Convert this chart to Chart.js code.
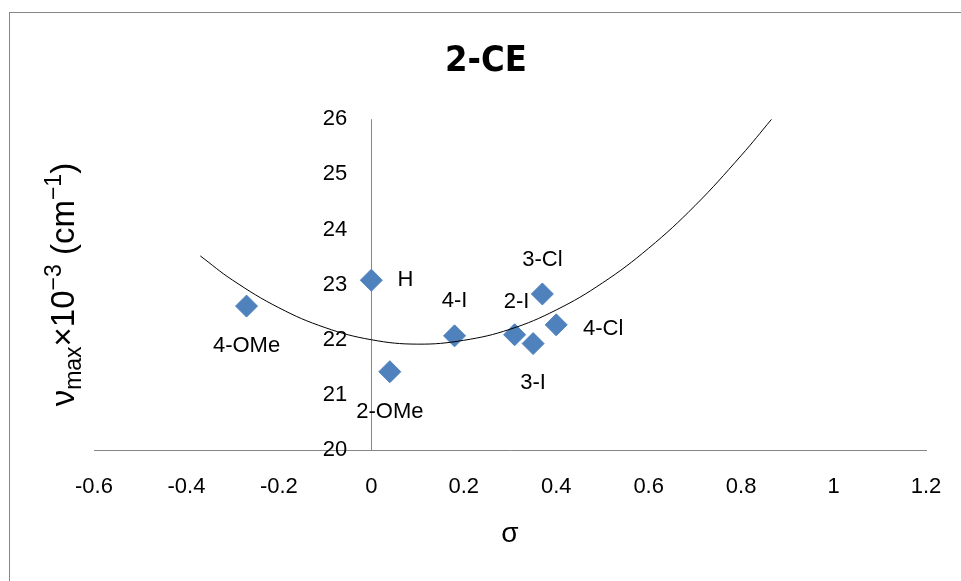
<!DOCTYPE html>
<html><head><meta charset="utf-8">
<script src="https://cdn.jsdelivr.net/npm/chart.js@4.4.1/dist/chart.umd.min.js"></script>
<style>
html,body{margin:0;padding:0;background:#fff;overflow:hidden}
#wrap{position:absolute;left:0;top:0;width:961px;height:581px;overflow:hidden}
#frame{position:absolute;left:9px;top:12px;width:1100px;height:1100px;border:1px solid #868686;box-sizing:border-box;pointer-events:none}
canvas{position:absolute;left:0;top:0}
</style></head><body>
<div id="wrap"><canvas id="c" width="961" height="581"></canvas><div id="frame"></div></div>
<script>
// ---- data ----
const substituents = ['H', '4-OMe', '2-OMe', '4-I', '2-I', '3-I', '3-Cl', '4-Cl'];
const sigma = [0, -0.27, 0.04, 0.18, 0.31, 0.35, 0.37, 0.40];
const nuMax = [23.08, 22.61, 21.42, 22.07, 22.09, 21.93, 22.83, 22.27];
// trendline (polynomial, as drawn)
const trendSigma = [-0.37, -0.3, -0.2, -0.1, 0, 0.1, 0.2, 0.3, 0.4, 0.5, 0.6, 0.7, 0.8, 0.866];
const trendNu = [23.52, 23.08, 22.58, 22.22, 22.00, 21.92, 21.99, 22.19, 22.54, 23.03, 23.66, 24.43, 25.34, 26.0];
const xTicks = [-0.6, -0.4, -0.2, 0, 0.2, 0.4, 0.6, 0.8, 1, 1.2];
const yTicks = [20, 21, 22, 23, 24, 25, 26];
const chartTitle = '2-CE';
const xTitle = 'σ';
const yTitleParts = [['ν', 'main'], ['max', 'sub'], ['×10', 'main'], ['−3', 'sup'], [' (cm', 'main'], ['−1', 'sup'], [')', 'main']];

// ---- styling / placement ----
const FONT = '"Liberation Sans", Arial, sans-serif';
const labelPlacement = {
  'H': [34, 0], '4-OMe': [0, 40], '2-OMe': [0, 40], '4-I': [0, -35],
  '2-I': [2, -33], '3-I': [0, 39], '3-Cl': [0, -34], '4-Cl': [47, 4]
};

const pointLabelPlugin = {
  id: 'pointLabels',
  afterDatasetsDraw(chart) {
    const meta = chart.getDatasetMeta(1);
    const ctx = chart.ctx;
    ctx.save();
    ctx.font = '22px ' + FONT;
    ctx.fillStyle = '#000';
    ctx.textAlign = 'center';
    ctx.textBaseline = 'middle';
    meta.data.forEach((el, i) => {
      const off = labelPlacement[substituents[i]];
      ctx.fillText(substituents[i], el.x + off[0], el.y + off[1]);
    });
    ctx.restore();
  }
};

const yTitlePlugin = {
  id: 'yTitle',
  afterDraw(chart) {
    const ctx = chart.ctx;
    const area = chart.chartArea;
    const mainF = '33px ' + FONT, smallF = '23px ' + FONT;
    ctx.save();
    let total = 0;
    const widths = yTitleParts.map(([t, k]) => {
      ctx.font = k === 'main' ? mainF : smallF;
      const w = ctx.measureText(t).width;
      total += w;
      return w;
    });
    const cy = (area.top + area.bottom) / 2;
    ctx.translate(74, cy);
    ctx.rotate(-Math.PI / 2);
    ctx.fillStyle = '#000';
    ctx.textBaseline = 'alphabetic';
    ctx.textAlign = 'left';
    let x = -total / 2;
    yTitleParts.forEach(([t, k], i) => {
      ctx.font = k === 'main' ? mainF : smallF;
      const dy = k === 'sub' ? 7 : (k === 'sup' ? -13 : 0);
      ctx.fillText(t, x, dy);
      x += widths[i];
    });
    ctx.restore();
  }
};

new Chart(document.getElementById('c'), {
  type: 'scatter',
  data: {
    datasets: [
      {
        type: 'line',
        label: 'trend',
        data: trendSigma.map((x, i) => ({ x: x, y: trendNu[i] })),
        yAxisID: 'y',
        borderColor: '#000',
        borderWidth: 1,
        pointRadius: 0,
        tension: 0.4,
        fill: false
      },
      {
        label: '2-CE',
        data: sigma.map((x, i) => ({ x: x, y: nuMax[i] })),
        yAxisID: 'y',
        pointStyle: 'rectRot',
        pointRadius: 11,
        backgroundColor: '#4F81BD',
        borderColor: '#4F81BD',
        borderWidth: 1
      }
    ]
  },
  options: {
    responsive: false,
    animation: false,
    devicePixelRatio: 1,
    layout: { padding: { left: 46, right: 35, top: 0, bottom: 28.5 } },
    plugins: {
      legend: { display: false },
      tooltip: { enabled: false },
      title: {
        display: true,
        text: chartTitle,
        color: '#000',
        font: { family: '"Liberation Sans Narrow", "DejaVu Sans Condensed", ' + FONT, size: 36, weight: 'bold' },
        padding: { top: 40, bottom: 36 }
      }
    },
    scales: {
      x: {
        type: 'linear',
        min: -0.6, max: 1.2,
        afterBuildTicks: s => { s.ticks = xTicks.map(v => ({ value: v })); },
        ticks: { color: '#000', font: { family: FONT, size: 22 }, padding: 4, callback: v => String(v) },
        grid: {
          display: true, drawTicks: true, tickLength: 20, tickColor: 'rgba(0,0,0,0)', lineWidth: 1,
          color: c => (c.tick && c.tick.value === 0) ? '#868686' : 'rgba(0,0,0,0)'
        },
        border: { display: true, color: '#868686', width: 1 },
        title: { display: true, text: xTitle, color: '#000', font: { family: FONT, size: 28 }, padding: { top: 13, bottom: 1.5 } }
      },
      y: {
        type: 'linear',
        min: 20, max: 26,
        position: { x: -0.052 },
        afterBuildTicks: s => { s.ticks = yTicks.map(v => ({ value: v })); },
        ticks: { color: '#000', font: { family: FONT, size: 22 }, padding: 0, callback: v => String(v) },
        grid: { display: false, drawTicks: false },
        border: { display: false }
      },
      yPad: {
        type: 'linear',
        position: 'left',
        min: 0, max: 1,
        ticks: { display: false },
        grid: { display: false, drawTicks: false },
        border: { display: false },
        afterFit: s => { s.width = 48; }
      }
    }
  },
  plugins: [pointLabelPlugin, yTitlePlugin]
});
</script>
</body></html>
